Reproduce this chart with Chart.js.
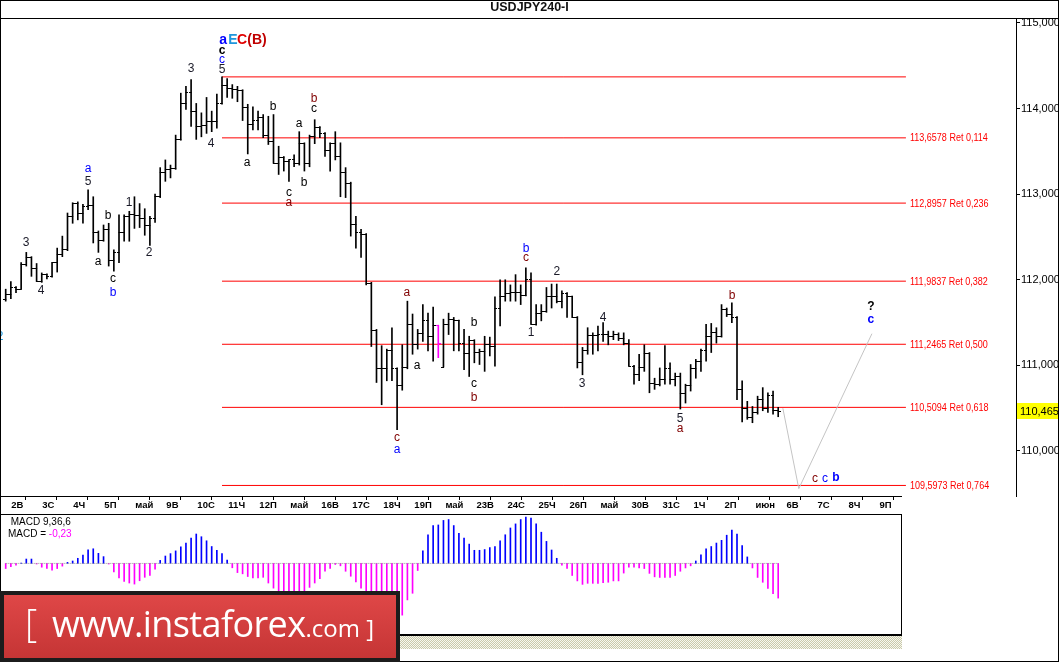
<!DOCTYPE html>
<html>
<head>
<meta charset="utf-8">
<title>USDJPY240-I</title>
<script src="https://cdn.jsdelivr.net/npm/chart.js@4.4.1/dist/chart.umd.min.js"></script>
<style>
  html, body { margin: 0; padding: 0; background: #fff; }
  #page { position: relative; width: 1059px; height: 662px; overflow: hidden; background: #fff; }
  canvas { position: absolute; display: block; }
  #priceChart { left: 0; top: 0; }
  #macdChart { left: 0; top: 515px; }
  #title { position: absolute; left: 0; top: 0; width: 1059px; height: 18px; border-bottom: 1px solid #000;
           text-align: center; line-height: 18px; font: bold 12.5px "Liberation Sans", Arial, sans-serif; color: #111; }
  #axisLine { position: absolute; left: 0; top: 496px; width: 902px; height: 1px; background: #000; }
  #macdBox { position: absolute; left: 0; top: 514px; width: 900px; height: 119px;
             border: 1px solid #000; border-bottom: 2px solid #000; }
  #macdText { position: absolute; left: 8px; top: 516px; font: 10px "Liberation Sans", Arial, sans-serif; line-height: 12px; color: #000; }
  #macdText .neg { color: #ff00ff; }
  #hatch { position: absolute; left: 0; top: 636px; width: 902px; height: 13px;
           background: repeating-conic-gradient(#c9c9aa 0 25%, #f7f7ef 0 50%) 0 0 / 2px 2px; }
  #frame { position: absolute; left: 0; top: 0; width: 1057px; height: 660px; border: 1px solid #000; }
  #logo { position: absolute; left: 0; top: 591px; width: 400px; height: 71px; box-sizing: border-box;
          border: 4px solid #1c1c1c; background: linear-gradient(#df4747, #c53535); overflow: hidden; }
  #logo span { position: absolute; color: #fff; font-family: "Open Sans", "Noto Sans", sans-serif; white-space: nowrap; }
  #logo .br { left: 21px; top: 8px; font-size: 38px; line-height: 38px; font-weight: 300; }
  #logo .url { left: 48px; top: 9px; font-size: 36px; line-height: 40px; letter-spacing: -0.6px; }
  #logo .url small { font-size: 24px; letter-spacing: 0; }
</style>
</head>
<body>
<div id="page">
  <canvas id="priceChart" width="1059" height="515"></canvas>
  <canvas id="macdChart" width="902" height="119"></canvas>
  <div id="title">USDJPY240-I</div>
  <div id="axisLine"></div>
  <div id="macdBox"></div>
  <div id="macdText">&nbsp;MACD 9,36,6<br>MACD = <span class="neg">-0,23</span></div>
  <div id="hatch"></div>
  <div id="frame"></div>
  <div id="logo"><span class="br">[</span><span class="url">www.instaforex<small>.com ]</small></span></div>
</div>
<script>
// 4h bars
const OPEN = [111.77,111.83,111.91,111.89,112.18,112.26,112.13,111.98,112.06,112.04,
  112.20,112.29,112.35,112.74,112.89,112.77,112.86,112.87,112.55,112.46,
  112.59,112.22,112.32,112.55,112.74,112.76,112.75,112.72,112.63,112.71,
  112.97,113.25,113.29,113.30,113.64,114.06,114.19,113.97,113.79,113.80,
  113.85,113.85,114.06,114.27,114.24,114.22,114.21,114.01,113.81,113.86,
  113.89,113.68,113.62,113.36,113.43,113.38,113.40,113.36,113.59,113.36,
  113.67,113.78,113.71,113.51,113.59,113.44,113.25,113.13,112.64,112.55,
  112.53,111.96,111.41,110.96,110.96,111.17,110.96,110.77,110.97,111.48,
  111.24,111.37,111.52,111.34,111.46,110.98,111.48,111.54,111.52,111.26,
  111.14,111.29,111.15,111.16,111.24,111.22,111.67,111.80,111.84,111.85,
  111.85,111.82,112.00,111.48,111.61,111.63,111.80,111.81,111.75,111.84,
  111.80,111.56,111.03,111.17,111.35,111.35,111.36,111.36,111.34,111.36,
  111.31,111.26,110.99,110.89,110.98,111.14,110.79,110.78,110.84,110.96,
  110.84,110.87,110.67,110.77,110.96,111.05,111.17,111.34,111.38,111.34,
  111.65,111.59,111.56,110.72,110.50,110.39,110.45,110.60,110.50,110.65,
  110.47];
const HIGH = [111.89,111.98,111.92,112.20,112.32,112.27,112.19,112.08,112.07,112.20,
  112.37,112.51,112.78,112.90,112.91,112.88,113.05,112.97,112.57,112.64,
  112.66,112.35,112.76,112.76,112.80,112.97,112.89,112.83,112.74,113.00,
  113.31,113.40,113.34,113.69,114.18,114.26,114.34,114.06,113.95,114.13,
  113.97,114.17,114.37,114.35,114.28,114.26,114.22,114.05,114.02,113.97,
  113.93,113.91,113.93,113.56,113.44,113.40,113.46,113.73,113.60,113.69,
  113.87,113.79,113.72,113.60,113.73,113.60,113.31,113.14,112.74,112.59,
  112.54,111.97,111.42,111.23,111.19,111.44,110.97,111.24,111.75,111.60,
  111.42,111.71,111.61,111.68,111.47,111.54,111.61,111.56,111.53,111.42,
  111.34,111.30,111.19,111.34,111.33,111.80,112.00,112.00,111.94,112.06,
  111.94,112.14,112.08,111.71,111.71,111.91,111.95,111.95,111.87,111.85,
  111.81,111.57,111.21,111.44,111.38,111.46,111.50,111.40,111.40,111.38,
  111.38,111.30,111.00,111.13,111.24,111.15,110.85,110.97,111.23,111.03,
  110.91,110.91,110.78,111.01,111.07,111.19,111.48,111.49,111.44,111.71,
  111.67,111.73,111.57,110.82,110.58,110.52,110.64,110.74,110.68,110.70,
  110.51];
const LOW = [111.75,111.78,111.85,111.89,112.16,112.04,111.98,111.97,112.01,112.03,
  112.09,112.27,112.34,112.66,112.70,112.66,112.82,112.43,112.32,112.45,
  112.16,112.10,112.20,112.45,112.45,112.60,112.61,112.52,112.40,112.67,
  112.96,113.15,113.19,113.29,113.63,113.99,113.79,113.64,113.67,113.71,
  113.73,113.77,114.05,114.13,114.12,114.08,113.86,113.47,113.75,113.75,
  113.66,113.58,113.36,113.23,113.27,113.15,113.32,113.34,113.27,113.32,
  113.59,113.66,113.44,113.27,113.40,112.97,112.96,112.51,112.37,112.26,
  111.94,111.22,110.80,110.54,110.82,110.82,110.25,110.71,110.96,111.13,
  111.19,111.28,111.17,111.05,111.09,110.98,111.36,111.17,111.17,110.95,
  110.87,111.03,111.01,110.93,111.11,110.99,111.46,111.75,111.75,111.75,
  111.71,111.81,111.48,111.47,111.52,111.62,111.67,111.73,111.67,111.56,
  111.56,110.97,110.89,111.13,111.13,111.17,111.28,111.24,111.30,111.29,
  111.24,110.99,110.78,110.82,110.93,110.68,110.72,110.76,110.78,110.78,
  110.76,110.49,110.56,110.70,110.85,110.93,111.05,111.15,111.26,111.33,
  111.57,111.50,110.60,110.34,110.37,110.33,110.43,110.47,110.45,110.43,
  110.40];
const CLOSE = [111.83,111.91,111.89,112.18,112.26,112.13,111.98,112.06,112.04,112.20,
  112.29,112.35,112.74,112.89,112.77,112.86,112.87,112.55,112.46,112.59,
  112.22,112.32,112.55,112.74,112.76,112.75,112.72,112.63,112.71,112.97,
  113.25,113.29,113.30,113.64,114.06,114.19,113.97,113.79,113.80,113.85,
  113.85,114.06,114.27,114.24,114.22,114.21,114.01,113.81,113.86,113.89,
  113.68,113.62,113.36,113.43,113.38,113.40,113.36,113.59,113.36,113.67,
  113.78,113.71,113.51,113.59,113.44,113.25,113.13,112.64,112.55,112.53,
  111.96,111.41,110.96,110.96,111.17,110.96,110.77,110.97,111.48,111.24,
  111.37,111.52,111.34,111.46,111.26,111.48,111.54,111.52,111.26,111.14,
  111.29,111.15,111.16,111.24,111.22,111.67,111.80,111.84,111.85,111.85,
  111.82,112.00,111.48,111.61,111.63,111.80,111.81,111.75,111.84,111.80,
  111.56,111.03,111.17,111.35,111.35,111.36,111.36,111.34,111.36,111.31,
  111.26,110.99,110.89,110.98,111.14,110.79,110.78,110.84,110.96,110.84,
  110.87,110.67,110.77,110.96,111.05,111.17,111.34,111.38,111.34,111.65,
  111.59,111.56,110.72,110.50,110.39,110.45,110.60,110.50,110.65,110.47,
  110.465];
// MACD(9,36,6) main line, drawn as histogram
const MACD = [-0.034,-0.022,-0.011,0.003,0.029,0.029,-0.004,-0.025,-0.034,-0.045,
  -0.034,-0.018,0.007,0.016,0.034,0.056,0.090,0.097,0.067,0.045,
  -0.004,-0.056,-0.097,-0.119,-0.130,-0.137,-0.115,-0.092,-0.079,-0.038,
  0.020,0.049,0.065,0.083,0.110,0.135,0.168,0.195,0.177,0.150,
  0.112,0.087,0.065,0.022,-0.029,-0.061,-0.069,-0.087,-0.097,-0.097,
  -0.092,-0.130,-0.164,-0.182,-0.198,-0.209,-0.204,-0.193,-0.182,-0.159,
  -0.130,-0.101,-0.052,-0.034,-0.007,-0.016,-0.052,-0.085,-0.123,-0.164,
  -0.198,-0.226,-0.253,-0.276,-0.298,-0.320,-0.338,-0.343,-0.242,-0.198,
  -0.047,0.083,0.190,0.251,0.255,0.285,0.291,0.251,0.199,0.168,
  0.128,0.087,0.087,0.092,0.105,0.112,0.150,0.190,0.235,0.262,
  0.291,0.307,0.301,0.262,0.207,0.146,0.089,0.034,-0.011,-0.034,
  -0.080,-0.116,-0.139,-0.132,-0.132,-0.132,-0.128,-0.125,-0.116,-0.116,
  -0.064,-0.025,-0.025,-0.030,-0.034,-0.066,-0.089,-0.093,-0.093,-0.093,
  -0.080,-0.052,-0.030,-0.016,0.016,0.057,0.096,0.112,0.135,0.153,
  0.187,0.221,0.194,0.119,0.043,-0.030,-0.093,-0.125,-0.166,-0.201,
  -0.230];

const DAY_LABELS = ['2В','3С','4Ч','5П','май','9В','10С','11Ч','12П','май','16В','17С','18Ч','19П','май',
  '23В','24С','25Ч','26П','май','30В','31С','1Ч','2П','июн','6В','7С','8Ч','9П'];
const PRICE_TICKS = [110, 111, 112, 113, 114, 115];

// retracement grid drawn from the top bar
const FIB_LEVELS = [114.3699, 113.6578, 112.8957, 111.9837, 111.2465, 110.5094, 109.5973];
const FIB_RATIOS = [null, '0,114', '0,236', '0,382', '0,500', '0,618', '0,764'];
const FIB_FROM = 42, FIB_TO = 174.8;

// projected path (bar, price)
const PROJ_BARS = [150.9, 154.0, 168.2];
const PROJ_PRICES = [110.50, 109.56, 111.37];

// wave marks: bar, price, text, ink, weight (0 normal, 1 bold, 2 big bold)
const WAVES = [
  [-1.1, 111.34, '2', 'sky', 0],
  [3.94, 112.43, '3', 'num', 0], [6.85, 111.87, '4', 'num', 0],
  [15.98, 113.30, 'a', 'blue', 0], [15.98, 113.14, '5', 'num', 0],
  [19.86, 112.75, 'b', 'black', 0], [17.92, 112.21, 'a', 'black', 0],
  [20.83, 112.01, 'c', 'black', 0], [20.83, 111.85, 'b', 'blue', 0],
  [23.94, 112.90, '1', 'num', 0], [27.83, 112.32, '2', 'num', 0],
  [35.98, 114.47, '3', 'num', 0], [39.86, 113.59, '4', 'num', 0],
  [42.2, 114.80, 'a', 'blue', 2], [44.1, 114.80, 'E', 'sky', 2],
  [45.9, 114.80, 'C', 'red', 2], [48.8, 114.80, '(B)', 'crimson', 2],
  [42.0, 114.68, 'c', 'black', 1], [42.0, 114.57, 'c', 'blue', 0], [42.0, 114.46, '5', 'num', 0],
  [46.85, 113.37, 'a', 'black', 0], [51.9, 114.02, 'b', 'black', 0],
  [56.95, 113.82, 'a', 'black', 0], [57.92, 113.13, 'b', 'black', 0],
  [55.0, 113.02, 'c', 'black', 0], [55.0, 112.90, 'a', 'maroon', 0],
  [59.86, 114.11, 'b', 'maroon', 0], [59.86, 114.00, 'c', 'black', 0],
  [76.0, 110.16, 'c', 'maroon', 0], [76.0, 110.02, 'a', 'blue', 0],
  [77.9, 111.85, 'a', 'maroon', 0], [79.86, 111.00, 'a', 'black', 0],
  [90.93, 111.50, 'b', 'black', 0], [90.93, 110.79, 'c', 'black', 0], [90.93, 110.62, 'b', 'maroon', 0],
  [101.03, 112.36, 'b', 'blue', 0], [101.03, 112.26, 'c', 'maroon', 0],
  [107.0, 112.09, '2', 'num', 0], [102.0, 111.38, '1', 'num', 0],
  [111.9, 110.79, '3', 'num', 0], [116.0, 111.56, '4', 'num', 0],
  [130.93, 110.38, '5', 'num', 0], [130.93, 110.26, 'a', 'maroon', 0],
  [141.03, 111.81, 'b', 'maroon', 0],
  [157.14, 109.68, 'c', 'maroon', 0], [159.1, 109.68, 'c', 'blue', 0], [161.2, 109.69, 'b', 'blue', 1],
  [168.0, 111.69, '?', 'black', 1], [168.0, 111.53, 'c', 'blue', 1]
];

const INK = { black: '#000000', blue: '#0000ff', maroon: '#800000', num: '#1a1a28',
  sky: '#1e96dc', red: '#e00000', crimson: '#c00000' };
const SANS = '"Liberation Sans", Arial, sans-serif';
const MARKED_BAR = 84;   // the one bar painted magenta

// bar 0 sits at x=5.7px, one bar = 5.15px
const BAR_PX = 5.15, BAR0_PX = 5.7;
const FIRST_TICK = 0.9, BARS_PER_DAY = 6.02;

const comma = (v, d) => v.toFixed(d).replace('.', ',');

function tickImage(side, colour) {
  const c = document.createElement('canvas');
  c.width = 5; c.height = 1;
  const g = c.getContext('2d');
  g.fillStyle = colour;
  if (side === 'left') g.fillRect(0, 0, 3, 1); else g.fillRect(2, 0, 3, 1);
  return c;
}
const openTick = tickImage('left', '#000'), closeTick = tickImage('right', '#000');
const openTickM = tickImage('left', '#ff00ff'), closeTickM = tickImage('right', '#ff00ff');

const waveLabels = {
  id: 'waveLabels',
  afterDatasetsDraw(chart) {
    const { ctx, chartArea } = chart;
    const x = chart.scales.x, y = chart.scales.y;
    ctx.save();
    ctx.textAlign = 'center';
    ctx.textBaseline = 'middle';
    WAVES.forEach(([bar, price, text, ink, weight]) => {
      ctx.font = weight === 2 ? 'bold 14px ' + SANS : weight === 1 ? 'bold 12px ' + SANS : '12px ' + SANS;
      ctx.fillStyle = INK[ink];
      ctx.fillText(text, x.getPixelForValue(bar), y.getPixelForValue(price));
    });

    // level captions, in a narrow face
    ctx.textAlign = 'left';
    ctx.font = '11px ' + SANS;
    ctx.fillStyle = '#ff0000';
    FIB_LEVELS.forEach((lvl, i) => {
      if (!FIB_RATIOS[i]) return;
      ctx.save();
      ctx.translate(x.getPixelForValue(FIB_TO) + 4, y.getPixelForValue(lvl) + 0.5);
      ctx.scale(0.82, 1);
      ctx.fillText(comma(lvl, 4) + ' Ret ' + FIB_RATIOS[i], 0, 0);
      ctx.restore();
    });

    const last = CLOSE[CLOSE.length - 1];
    const py = Math.round(y.getPixelForValue(last));
    ctx.fillStyle = '#ffff00';
    ctx.fillRect(chartArea.right + 1, py - 8, 43, 16);
    ctx.fillStyle = '#000';
    ctx.font = '11px ' + SANS;
    ctx.fillText(comma(last, 3), chartArea.right + 4, py + 0.5);
    ctx.restore();
  }
};

const datasets = [
  {
    type: 'bar',
    data: HIGH.map((h, i) => ({ x: i, y: [LOW[i], h] })),
    backgroundColor: HIGH.map((h, i) => i === MARKED_BAR ? '#ff00ff' : '#000'),
    barThickness: 1,
    order: 3
  },
  {
    type: 'line',
    data: OPEN.map((o, i) => ({ x: i, y: o })),
    showLine: false,
    pointStyle: c => c.dataIndex === MARKED_BAR ? openTickM : openTick,
    pointRadius: 3,
    order: 2
  },
  {
    type: 'line',
    data: CLOSE.map((c, i) => ({ x: i, y: c })),
    showLine: false,
    pointStyle: c => c.dataIndex === MARKED_BAR ? closeTickM : closeTick,
    pointRadius: 3,
    order: 2
  },
  {
    type: 'line',
    data: PROJ_BARS.map((b, i) => ({ x: b, y: PROJ_PRICES[i] })),
    borderColor: '#c4c4c4',
    borderWidth: 1,
    pointRadius: 0,
    order: 4
  }
];
FIB_LEVELS.forEach(lvl => {
  datasets.push({
    type: 'line',
    data: [{ x: FIB_FROM, y: lvl }, { x: FIB_TO, y: lvl }],
    borderColor: '#ff0000',
    borderWidth: 1,
    pointRadius: 0,
    order: 5
  });
});

const priceWidth = 1059, plotRight = 1016;
new Chart(document.getElementById('priceChart'), {
  type: 'bar',
  data: { datasets },
  options: {
    responsive: false,
    animation: false,
    devicePixelRatio: 1,
    events: [],
    layout: { autoPadding: false, padding: { top: 18, left: 0, right: 0, bottom: 0 } },
    scales: {
      x: {
        type: 'linear',
        offset: false,
        min: -BAR0_PX / BAR_PX,
        max: (plotRight - BAR0_PX) / BAR_PX,
        border: { display: false },
        grid: { drawOnChartArea: false, drawTicks: true, tickLength: 4, color: '#000' },
        ticks: {
          autoSkip: false, maxRotation: 0, align: 'start', labelOffset: 1, padding: 0,
          color: '#000',
          font: { family: SANS, size: 9.5, weight: 'bold' },
          callback: (v, i) => DAY_LABELS[i]
        },
        afterBuildTicks: s => { s.ticks = DAY_LABELS.map((_, k) => ({ value: FIRST_TICK + k * BARS_PER_DAY })); },
        afterFit: s => { s.height = 19; }
      },
      y: {
        type: 'linear',
        position: 'right',
        min: 109.474,
        max: 115.058,
        border: { display: true, color: '#000' },
        grid: { drawOnChartArea: false, tickLength: 4, color: '#000' },
        ticks: {
          padding: 1, color: '#000',
          font: { family: SANS, size: 11 },
          callback: v => comma(v, 3)
        },
        afterBuildTicks: s => { s.ticks = PRICE_TICKS.map(v => ({ value: v })); },
        afterFit: s => { s.width = priceWidth - plotRight; }
      }
    },
    plugins: { legend: { display: false }, tooltip: { enabled: false } }
  },
  plugins: [waveLabels]
});

// MACD panel: 902px wide, same bar grid as above
new Chart(document.getElementById('macdChart'), {
  type: 'bar',
  data: {
    datasets: [
      {
        type: 'bar',
        data: MACD.map((v, i) => ({ x: i, y: v })),
        backgroundColor: MACD.map(v => v >= 0 ? '#0000ff' : '#ff00ff'),
        barThickness: 1,
        order: 2
      },
      {
        type: 'line',
        data: [{ x: 0, y: 0 }, { x: MACD.length - 1, y: 0 }],
        borderColor: '#9a9a9a',
        borderWidth: 1,
        borderDash: [1, 1],
        pointRadius: 0,
        order: 1
      }
    ]
  },
  options: {
    responsive: false,
    animation: false,
    devicePixelRatio: 1,
    events: [],
    layout: { autoPadding: false, padding: 0 },
    scales: {
      x: { type: 'linear', display: false, offset: false, min: -BAR0_PX / BAR_PX, max: (902 - BAR0_PX) / BAR_PX },
      y: { display: false, min: -0.468, max: 0.321 }
    },
    plugins: { legend: { display: false }, tooltip: { enabled: false } }
  }
});
</script>
</body>
</html>
